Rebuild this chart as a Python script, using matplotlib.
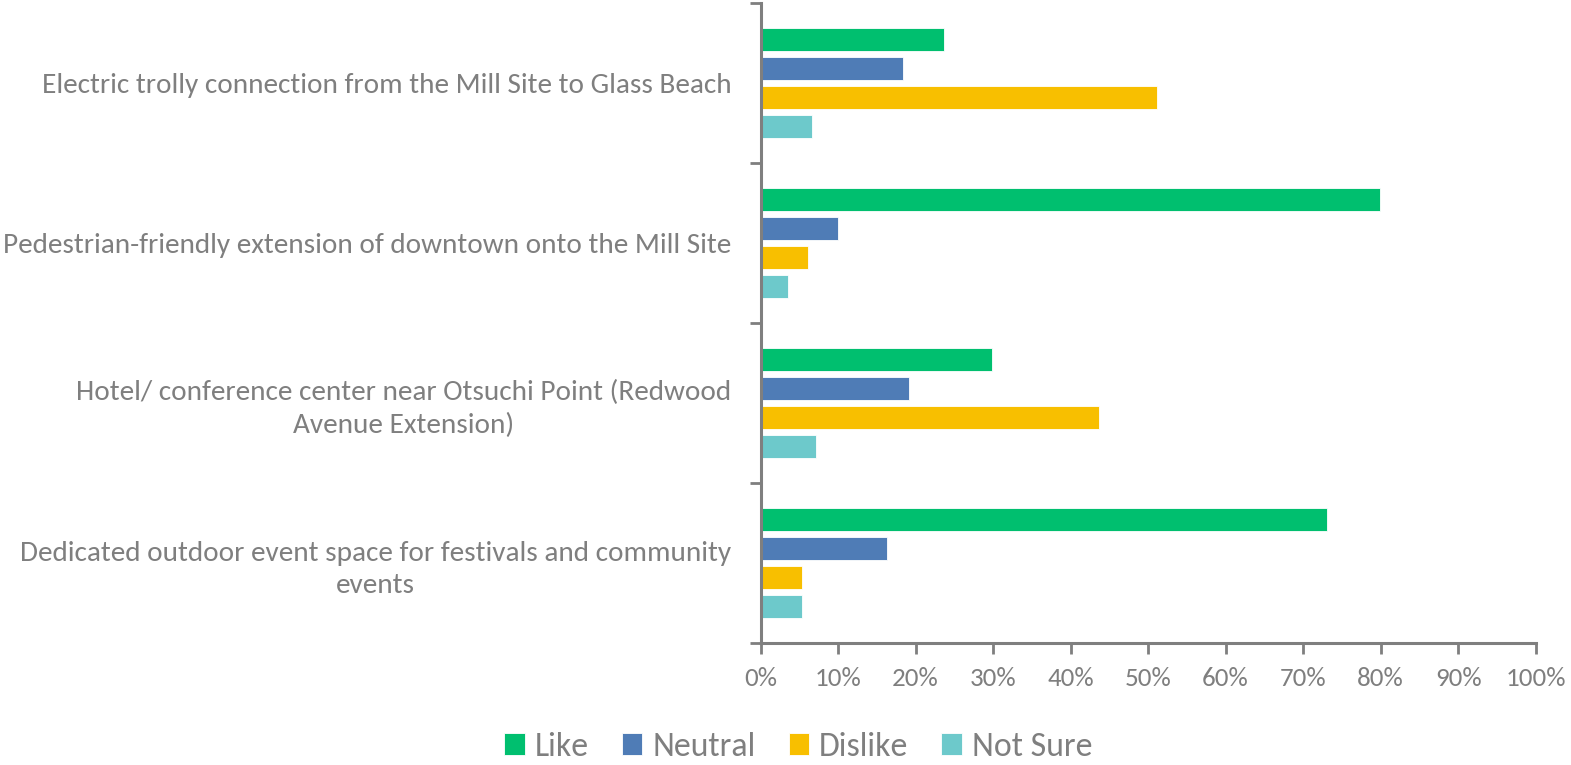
import matplotlib
matplotlib.use("Agg")
import matplotlib.pyplot as plt
import numpy as np

categories = [
    "Electric trolly connection from the Mill Site to Glass Beach",
    "Pedestrian-friendly extension of downtown onto the Mill Site",
    "Hotel/ conference center near Otsuchi Point (Redwood\nAvenue Extension)",
    "Dedicated outdoor event space for festivals and community\nevents",
]
series = ["Like", "Neutral", "Dislike", "Not Sure"]
like = [23.7, 79.9, 29.8, 73.1]
neutral = [18.4, 10.0, 19.2, 16.3]
dislike = [51.2, 6.1, 43.7, 5.3]
not_sure = [6.6, 3.6, 7.2, 5.3]
colors = ["#00BF6F", "#4F7CB6", "#F8BF00", "#6DC9CB"]
xticks = [0, 10, 20, 30, 40, 50, 60, 70, 80, 90, 100]

FONT = ["Carlito", "Liberation Sans", "DejaVu Sans"]
GRAY = "#7F7F7F"

fig = plt.figure(figsize=(15.71, 7.65), dpi=100)
ax = fig.add_axes([760.5 / 1571, 1 - 643 / 765, (1535.7 - 760.5) / 1571, (643 - 3) / 765])

centers = np.arange(len(categories)) + 0.5
pitch = 0.181
height = 0.144
data = [like, neutral, dislike, not_sure]
for i, (name, vals, c) in enumerate(zip(series, data, colors)):
    off = (i - 1.5) * pitch
    ax.barh(centers + off, vals, height=height, color=c, label=name,
            edgecolor="white", linewidth=0.6)

ax.set_xlim(0, 100)
ax.set_ylim(len(categories), 0)
ax.set_xticks(xticks)
ax.set_xticklabels([f"{t}%" for t in xticks], family=FONT, fontsize=19, color=GRAY)
ax.set_yticks(np.arange(len(categories) + 1))
ax.set_yticklabels([])
ax.set_yticks(centers, minor=True)
ax.set_yticklabels(categories, minor=True, family=FONT, fontsize=22, color=GRAY)
for lab in ax.get_yticklabels(minor=True):
    lab.set_multialignment("center")
    lab.set_linespacing(1.38)

ax.tick_params(axis="y", which="major", length=8, width=2, color=GRAY, direction="out")
ax.tick_params(axis="y", which="minor", length=0, pad=21)
ax.tick_params(axis="x", which="major", length=8, width=2, color=GRAY, direction="out", pad=9)

for s in ["top", "right"]:
    ax.spines[s].set_visible(False)
for s in ["left", "bottom"]:
    ax.spines[s].set_color(GRAY)
    ax.spines[s].set_linewidth(2.2)

handles, labels = ax.get_legend_handles_labels()
leg = fig.legend(handles, labels, loc="center", bbox_to_anchor=(798.3 / 1571, 1 - 747 / 765),
                 ncol=4, frameon=False, prop={"family": FONT, "size": 24.3},
                 handlelength=0.6, handleheight=0.6, handletextpad=0.3,
                 columnspacing=0.98, borderpad=0, borderaxespad=0)
for t in leg.get_texts():
    t.set_color(GRAY)

# fit font sizes to the reference text widths
fig.canvas.draw()
r = fig.canvas.get_renderer()
cl = ax.get_yticklabels(minor=True)
w = cl[0].get_window_extent(r).width
cs = 22 * 688.0 / w
for lab in cl:
    lab.set_fontsize(cs)
xl = ax.get_xticklabels()
w = xl[-1].get_window_extent(r).width
xs = 19 * 60.0 / w
for lab in xl:
    lab.set_fontsize(xs)

fig.savefig("out.png", dpi=100)
